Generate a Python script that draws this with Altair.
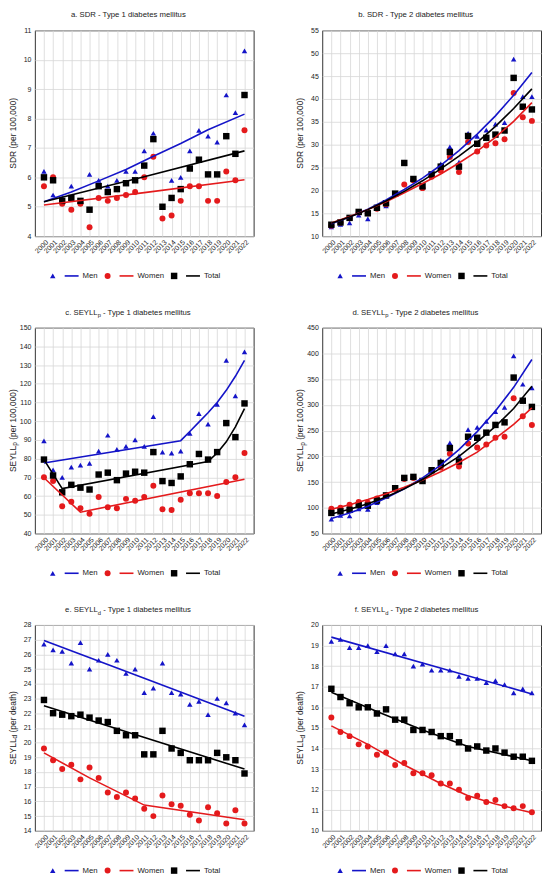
import altair as alt
import pandas as pd

YEARS = list(range(2000, 2023))
SERIES = ["Men", "Women", "Total"]
COLORS = ["#1414c8", "#e41a1c", "#000000"]

# ---- a. SDR - Type 1 ----
A_MEN = [6.2, 5.4, 5.3, 5.7, 5.2, 6.1, 5.9, 5.7, 5.9, 6.2, 6.2, 6.9, 7.5, 5.0, 5.9, 6.0, 6.9, 7.6, 7.4, 7.2, 8.8, 8.2, 10.3]
A_WOMEN = [5.7, 6.0, 5.1, 4.9, 5.1, 4.3, 5.3, 5.2, 5.3, 5.4, 5.5, 6.0, 6.7, 4.6, 4.7, 5.2, 5.7, 5.7, 5.2, 5.2, 6.2, 5.9, 7.6]
A_TOTAL = [6.0, 5.9, 5.2, 5.3, 5.2, 4.9, 5.7, 5.5, 5.6, 5.8, 5.9, 6.4, 7.3, 5.0, 5.3, 5.6, 6.3, 6.6, 6.1, 6.1, 7.4, 6.8, 8.8]
A_MEN_FIT = [(2000, 5.17), (2003, 5.5), (2006, 5.88), (2009, 6.27), (2012, 6.72), (2015, 7.15), (2018, 7.62), (2022, 8.15)]
A_WOMEN_FIT = [(2000, 5.06), (2011, 5.48), (2022, 5.92)]
A_TOTAL_FIT = [(2000, 5.17), (2011, 6.02), (2022, 6.9)]

# ---- b. SDR - Type 2 ----
B_MEN = [12.0, 12.6, 12.9, 14.6, 13.8, 16.0, 16.6, 19.3, 26.2, 22.6, 21.0, 23.6, 25.8, 29.5, 26.2, 32.5, 31.8, 33.2, 34.5, 34.8, 48.7, 40.5, 40.5]
B_WOMEN = [12.3, 13.0, 13.9, 15.2, 15.0, 16.0, 17.0, 19.2, 21.3, 22.2, 20.5, 23.0, 24.3, 27.3, 24.0, 30.6, 28.5, 29.8, 30.3, 31.2, 41.3, 36.0, 35.2]
B_TOTAL = [12.5, 13.0, 14.0, 15.3, 15.0, 16.2, 17.2, 19.3, 26.0, 22.5, 20.9, 23.5, 25.2, 28.4, 25.2, 31.9, 30.2, 31.5, 32.2, 33.1, 44.6, 38.3, 37.7]
B_MEN_FIT = [(2000, 12.7), (2002, 14.2), (2004, 15.9), (2006, 17.9), (2008, 20.2), (2010, 22.7), (2012, 25.5), (2014, 28.7), (2016, 32.3), (2018, 36.3), (2020, 40.8), (2022, 45.8)]
B_WOMEN_FIT = [(2000, 12.9), (2002, 14.3), (2004, 15.8), (2006, 17.5), (2008, 19.5), (2010, 21.5), (2012, 23.6), (2014, 26.0), (2016, 28.6), (2018, 31.6), (2020, 35.1), (2022, 39.2)]
B_TOTAL_FIT = [(2000, 12.8), (2002, 14.2), (2004, 15.8), (2006, 17.7), (2008, 19.8), (2010, 22.1), (2012, 24.7), (2014, 27.5), (2016, 30.5), (2018, 34.0), (2020, 37.9), (2022, 42.2)]

# ---- c. SEYLLp - Type 1 ----
C_MEN = [89.5, 74, 70, 75.5, 76.5, 77.5, 84, 92.5, 85, 86.5, 90, 86.5, 102.5, 83.5, 83, 84, 93.5, 104, 98.5, 109, 132.5, 113.5, 137]
C_WOMEN = [70, 68, 54.5, 57, 53.5, 50.5, 59.5, 54, 53.5, 58.5, 57.5, 59.5, 65.5, 53, 52.5, 58, 61.5, 61.5, 61.5, 60, 67.5, 70, 83]
C_TOTAL = [79.5, 71, 62, 66, 64.5, 63.5, 71.5, 72.5, 68.5, 72, 73, 72.5, 83.5, 68, 67, 70.5, 77, 82.5, 79.5, 83.5, 99, 91.5, 109.5]
C_MEN_FIT = [(2000, 77.7), (2015, 89.6), (2016, 94.5), (2017, 99.5), (2018, 104.5), (2019, 110), (2020, 116.5), (2021, 124), (2022, 132.5)]
C_WOMEN_FIT = [(2000, 69.8), (2004, 51.4), (2022, 69.0)]
C_TOTAL_FIT = [(2000, 79.5), (2002, 64.0), (2018, 78.5), (2019, 83), (2020, 89), (2021, 97), (2022, 106.7)]

# ---- d. SEYLLp - Type 2 ----
D_MEN = [78, 85, 84, 98, 97, 110, 123, 137, 157, 159, 152, 172, 192, 226, 201, 252, 256, 268, 287, 295, 395, 340, 333]
D_WOMEN = [98, 100, 106, 111, 110, 118, 124, 137, 156, 158, 152, 172, 178, 205, 180, 225, 217, 223, 236, 238, 313, 278, 261]
D_TOTAL = [90, 93, 96, 105, 104, 114, 124, 138, 158, 160, 152, 173, 187, 216, 190, 238, 236, 246, 261, 266, 353, 308, 296]
D_MEN_FIT = [(2000, 79), (2002, 90), (2004, 103), (2006, 119), (2008, 137), (2010, 158), (2012, 183), (2014, 213), (2016, 248), (2018, 288), (2020, 334), (2022, 388)]
D_WOMEN_FIT = [(2000, 97), (2002, 106), (2004, 116), (2006, 127), (2008, 140), (2010, 154), (2012, 170), (2014, 188), (2016, 208), (2018, 235), (2020, 262), (2022, 294)]
D_TOTAL_FIT = [(2000, 88), (2002, 97), (2004, 108), (2006, 121), (2008, 137), (2010, 155), (2012, 177), (2014, 200), (2016, 228), (2018, 258), (2020, 293), (2022, 336)]

# ---- e. SEYLLd - Type 1 ----
E_MEN = [26.7, 26.3, 26.2, 25.4, 26.8, 25.0, 25.6, 26.0, 25.6, 24.7, 25.0, 23.4, 23.7, 25.4, 23.4, 23.3, 22.6, 22.8, 21.9, 23.0, 22.7, 22.0, 21.2]
E_WOMEN = [19.6, 18.8, 18.2, 18.5, 17.5, 18.3, 17.6, 16.6, 16.3, 16.6, 16.2, 15.5, 15.0, 16.4, 15.8, 15.7, 15.1, 14.7, 15.6, 15.2, 14.5, 15.4, 14.5]
E_TOTAL = [22.9, 22.0, 21.9, 21.8, 21.9, 21.7, 21.5, 21.4, 20.8, 20.5, 20.5, 19.2, 19.2, 20.8, 19.6, 19.3, 18.8, 18.8, 18.8, 19.3, 19.0, 18.8, 17.9]
E_MEN_FIT = [(2000, 26.95), (2011, 24.37), (2022, 21.8)]
E_WOMEN_FIT = [(2000, 19.3), (2005, 17.6), (2011, 15.75), (2022, 14.75)]
E_TOTAL_FIT = [(2000, 22.5), (2022, 18.2)]

# ---- f. SEYLLd - Type 2 ----
F_MEN = [19.2, 19.3, 18.9, 18.9, 19.0, 18.7, 19.0, 18.6, 18.6, 18.0, 18.1, 17.8, 17.8, 17.8, 17.5, 17.4, 17.4, 17.2, 17.3, 17.1, 16.7, 16.9, 16.7]
F_WOMEN = [15.5, 14.8, 14.6, 14.2, 14.1, 13.7, 13.8, 13.2, 13.3, 12.8, 12.8, 12.7, 12.3, 12.3, 12.0, 11.6, 11.7, 11.4, 11.5, 11.2, 11.1, 11.2, 10.9]
F_TOTAL = [16.9, 16.5, 16.2, 16.0, 16.0, 15.7, 15.9, 15.4, 15.4, 14.9, 14.9, 14.8, 14.6, 14.6, 14.3, 14.0, 14.1, 13.9, 14.0, 13.8, 13.6, 13.6, 13.4]
F_MEN_FIT = [(2000, 19.41), (2022, 16.65)]
F_WOMEN_FIT = [(2000, 15.1), (2004, 14.2), (2008, 13.2), (2012, 12.3), (2015, 11.7), (2018, 11.3), (2022, 10.88)]
F_TOTAL_FIT = [(2000, 16.73), (2005, 15.8), (2010, 14.9), (2015, 14.1), (2022, 13.4)]

PANELS = [
    dict(title=("a. SDR - Type 1 diabetes mellitus", "", ""), ytitle=("SDR (per 100,000)", "", ""),
         ticks=list(range(4, 12)), pts=(A_MEN, A_WOMEN, A_TOTAL), fits=(A_MEN_FIT, A_WOMEN_FIT, A_TOTAL_FIT)),
    dict(title=("b. SDR - Type 2 diabetes mellitus", "", ""), ytitle=("SDR (per 100,000)", "", ""),
         ticks=list(range(10, 56, 5)), pts=(B_MEN, B_WOMEN, B_TOTAL), fits=(B_MEN_FIT, B_WOMEN_FIT, B_TOTAL_FIT)),
    dict(title=("c. SEYLL", "p", "- Type 1 diabetes mellitus"), ytitle=("SEYLL", "p", "(per 100,000)"),
         ticks=list(range(40, 151, 10)), pts=(C_MEN, C_WOMEN, C_TOTAL), fits=(C_MEN_FIT, C_WOMEN_FIT, C_TOTAL_FIT)),
    dict(title=("d. SEYLL", "p", "- Type 2 diabetes mellitus"), ytitle=("SEYLL", "p", "(per 100,000)"),
         ticks=list(range(50, 451, 50)), pts=(D_MEN, D_WOMEN, D_TOTAL), fits=(D_MEN_FIT, D_WOMEN_FIT, D_TOTAL_FIT)),
    dict(title=("e. SEYLL", "d", "- Type 1 diabetes mellitus"), ytitle=("SEYLL", "d", "(per death)"),
         ticks=list(range(14, 29)), pts=(E_MEN, E_WOMEN, E_TOTAL), fits=(E_MEN_FIT, E_WOMEN_FIT, E_TOTAL_FIT)),
    dict(title=("f. SEYLL", "d", "- Type 2 diabetes mellitus"), ytitle=("SEYLL", "d", "(per death)"),
         ticks=list(range(10, 21)), pts=(F_MEN, F_WOMEN, F_TOTAL), fits=(F_MEN_FIT, F_WOMEN_FIT, F_TOTAL_FIT)),
]

W, H = 220, 207
FONT = "Liberation Sans"
TXT = "#222222"
MARKS = [("triangle-up", 30), ("circle", 36), ("square", 42)]
TITLE_FS, SUB_FS = 7.8, 5.8
YT_FS, YSUB_FS = 8.5, 6.5
LEG_FS = 7.8

# Arial / Liberation Sans advance widths (per 1000 em) for placing rich text pieces
AW = {" ": 278, ".": 278, ",": 278, "-": 333, "(": 333, ")": 333, "a": 556, "b": 556, "c": 500,
      "d": 556, "e": 556, "h": 556, "i": 222, "l": 222, "m": 833, "n": 556, "o": 556, "p": 556,
      "r": 333, "s": 500, "t": 278, "u": 556, "y": 500, "S": 667, "D": 722, "R": 722, "E": 667,
      "Y": 667, "L": 556, "T": 611, "M": 833, "W": 944}


def tw(s, fs):
    return sum(AW.get(ch, 556) for ch in s) * fs / 1000.0


ONE = pd.DataFrame({"k": [0]})


def piece(text, x, y, align, fs, angle=0, dy=0):
    return alt.Chart(ONE).mark_text(
        text=text, align=align, baseline="middle", angle=angle, fontSize=fs,
        dy=dy, font=FONT, color=TXT,
    ).encode(x=alt.value(x), y=alt.value(y))


def rich(parts, fs, sfs, cx, cy, vertical):
    main, sub, rest = parts
    ang = 270 if vertical else 0
    if not sub:
        return [piece(main, cx, cy, "center", fs, ang)]
    gap = tw(" ", fs)
    total = tw(main, fs) + tw(sub, sfs) + gap + tw(rest, fs)
    if vertical:
        anchor = cy + total / 2 - tw(main, fs)
        return [piece(main, cx, anchor, "right", fs, ang),
                piece(sub, cx, anchor, "left", sfs, ang, dy=2.5),
                piece(rest, cx, anchor - tw(sub, sfs) - gap, "left", fs, ang)]
    anchor = cx - total / 2 + tw(main, fs)
    return [piece(main, anchor, cy, "right", fs),
            piece(sub, anchor, cy, "left", sfs, dy=2.5),
            piece(rest, anchor + tw(sub, sfs) + gap, cy, "left", fs)]


def legend_layers():
    out = []
    x = 18
    ly = H + 40
    for name, (shape, size), col in zip(SERIES, MARKS, COLORS):
        out.append(alt.Chart(ONE).mark_point(shape=shape, size=size, filled=True, opacity=1, color=col)
                   .encode(x=alt.value(x), y=alt.value(ly)))
        out.append(alt.Chart(ONE).mark_rule(color=col, strokeWidth=1.6)
                   .encode(x=alt.value(x + 12), x2=alt.value(x + 26), y=alt.value(ly)))
        out.append(piece(name, x + 30, ly, "left", LEG_FS))
        x = x + 30 + tw(name, LEG_FS) + 10
    return out


def panel(p):
    ticks = p["ticks"]
    xs = alt.Scale(domain=[1999, 2023], nice=False, zero=False)
    ys = alt.Scale(domain=[ticks[0], ticks[-1]], nice=False, zero=False)
    xax = alt.Axis(values=YEARS, format="d", labelAngle=-45, title=None, labelOverlap=False,
                   labelPadding=2, labelFontSize=7)
    yax = alt.Axis(values=ticks, title=None, labelOverlap=False, labelPadding=4, labelFontSize=7)
    enc = dict(x=alt.X("year:Q", scale=xs, axis=xax), y=alt.Y("value:Q", scale=ys, axis=yax))

    layers = []
    for vals, (shape, size), col in zip(p["pts"], MARKS, COLORS):
        df = pd.DataFrame({"year": YEARS, "value": vals})
        layers.append(alt.Chart(df).mark_point(shape=shape, size=size, filled=True, opacity=1,
                                               color=col).encode(**enc))
    for fit, col in zip(p["fits"], COLORS):
        df = pd.DataFrame(fit, columns=["year", "value"])
        layers.append(alt.Chart(df).mark_line(color=col, strokeWidth=1.6).encode(**enc))

    layers += legend_layers()
    layers += rich(p["title"], TITLE_FS, SUB_FS, W / 2 - 16, -15, False)
    layers += rich(p["ytitle"], YT_FS, YSUB_FS, -22, H / 2, True)
    return alt.layer(*layers).properties(width=W, height=H)


cells = [panel(p) for p in PANELS]
chart = alt.concat(*cells, columns=2, spacing={"row": 27, "column": 41}).resolve_scale(
    x="independent", y="independent"
).properties(padding=0).configure(
    font=FONT
).configure_view(stroke="#333333", strokeWidth=1).configure_axis(
    domain=False, ticks=False, grid=True, gridColor="#d6d6d6", gridWidth=0.8,
    labelColor=TXT, labelFont=FONT
)

chart.save("out.html", embed_options={"renderer": "svg", "actions": False})
